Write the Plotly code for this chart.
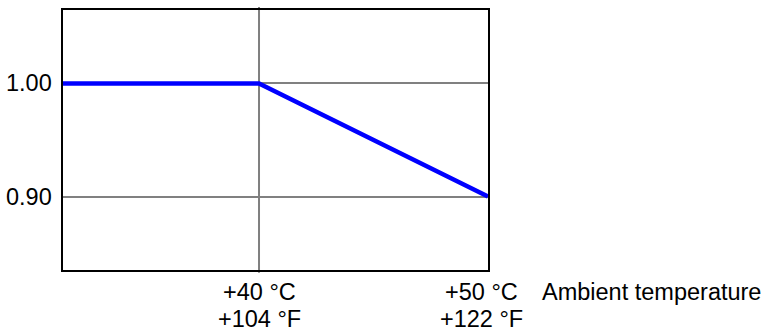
import plotly.graph_objects as go

# Data
temp_c = [31.3, 40, 50]
factor = [1.00, 1.00, 0.90]

y_ticks = [1.00, 0.90]
y_tick_labels = ["1.00", "0.90"]

x_ticks = [40, 50]
x_label_c = ["+40 °C", "+50 °C"]
x_label_f = ["+104 °F", "+122 °F"]
x_label_shift = [0, -7]
axis_title = "Ambient temperature"

FONT = "Liberation Sans, Arial, sans-serif"
FS = 23.5

fig = go.Figure()
fig.add_trace(go.Scatter(
    x=temp_c, y=factor, mode="lines",
    line=dict(color="#0000FF", width=4.5),
    hoverinfo="skip", showlegend=False, cliponaxis=False,
))

# vertical gridline at 40 °C extending a bit beyond frame
fig.add_shape(type="line", xref="x", yref="paper", x0=x_ticks[0], x1=x_ticks[0],
              y0=-0.011, y1=1.012, line=dict(color="#808080", width=2), layer="below")

annotations = []
for v, t in zip(y_ticks, y_tick_labels):
    annotations.append(dict(x=0, xref="paper", y=v, yref="y", text=t, showarrow=False,
                            xanchor="right", yanchor="middle", xshift=-9,
                            font=dict(family=FONT, size=FS, color="black")))
for v, c, f, s in zip(x_ticks, x_label_c, x_label_f, x_label_shift):
    annotations.append(dict(x=v, xref="x", y=0, yref="paper", text=c, showarrow=False,
                            xanchor="center", yanchor="middle", xshift=s, yshift=-22,
                            font=dict(family=FONT, size=FS, color="black")))
    annotations.append(dict(x=v, xref="x", y=0, yref="paper", text=f, showarrow=False,
                            xanchor="center", yanchor="middle", xshift=s, yshift=-49,
                            font=dict(family=FONT, size=FS, color="black")))
annotations.append(dict(x=x_ticks[-1], xref="x", y=0, yref="paper", text=axis_title,
                        showarrow=False, xanchor="left", yanchor="middle", xshift=52, yshift=-22,
                        font=dict(family=FONT, size=FS, color="black")))

fig.update_layout(
    width=768, height=333,
    margin=dict(l=63, r=280, t=8, b=63),
    paper_bgcolor="white", plot_bgcolor="white",
    showlegend=False,
    annotations=annotations,
    xaxis=dict(range=[31.44, 50], tickvals=[x_ticks[1]], showticklabels=False,
               showgrid=False, zeroline=False, ticks="",
               showline=True, linecolor="black", linewidth=1.6, mirror=True, fixedrange=True),
    yaxis=dict(range=[0.835, 1.065], tickvals=y_ticks, showticklabels=False,
               showgrid=True, gridcolor="#808080", gridwidth=2, zeroline=False, ticks="",
               showline=True, linecolor="black", linewidth=1.6, mirror=True, fixedrange=True),
)

fig.write_html(
    "out.html",
    config={"displayModeBar": False, "staticPlot": True},
    post_script="document.body.style.margin='0';document.body.style.padding='0';"
                "document.body.style.overflow='hidden';",
)
